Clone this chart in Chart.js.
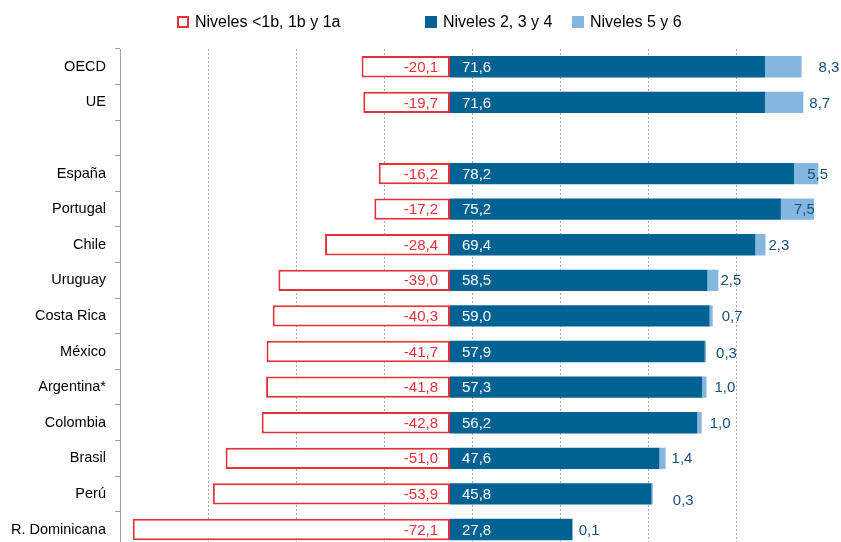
<!DOCTYPE html>
<html>
<head>
<meta charset="utf-8">
<script src="https://cdn.jsdelivr.net/npm/chart.js@4"></script>
<style>
  html, body { margin: 0; padding: 0; background: #fff; overflow: hidden; }
  #wrap { position: relative; width: 841px; height: 565px; }
  #c { position: absolute; left: 0; top: 0; }
  #legend { position: absolute; left: 0; top: 0; width: 841px; height: 40px;
    font-family: "Liberation Sans", Arial, sans-serif; font-size: 16px; color: #000; }
  .item { position: absolute; top: 12px; white-space: nowrap; line-height: 19px; }
  .box { display: inline-block; width: 12px; height: 12px; box-sizing: border-box; vertical-align: -1px; margin-right: 6px; }
</style>
</head>
<body>
<div id="wrap">
  <canvas id="c" width="841" height="565"></canvas>
  <div id="legend"></div>
</div>
<script>
const categories = ["OECD", "UE", "", "España", "Portugal", "Chile", "Uruguay", "Costa Rica", "México", "Argentina*", "Colombia", "Brasil", "Perú", "R. Dominicana"];
const seriesNames = ["Niveles <1b, 1b y 1a", "Niveles 2, 3 y 4", "Niveles 5 y 6"];
const lowLevels  = [-20.1, -19.7, null, -16.2, -17.2, -28.4, -39.0, -40.3, -41.7, -41.8, -42.8, -51.0, -53.9, -72.1];
const midLevels  = [71.6, 71.6, null, 78.2, 75.2, 69.4, 58.5, 59.0, 57.9, 57.3, 56.2, 47.6, 45.8, 27.8];
const highLevels = [8.3, 8.7, null, 5.5, 7.5, 2.3, 2.5, 0.7, 0.3, 1.0, 1.0, 1.4, 0.3, 0.1];
const gridTicks  = [-55, -35, -15, 5, 25, 45, 65];

// styling: label nudges for the outer (light) labels, in px
const outerLabelDx = [17, 6, 0, -11, -20, 3, 2, 9, 10, 8, 8, 6, 20, 6];
const outerLabelDy = [0, 0, 0, 0, 0, 0, 0, 0, 1, 0, 0, 0, 6, 0];

const RED = "#e8303a", DARK = "#006193", LIGHT = "#84b6e0", NAVY = "#17507e";
const FONT = '"Liberation Sans", Arial, sans-serif';

function fmt(v) { return v.toFixed(1).replace(".", ","); }

// HTML legend
const legendSpec = [
  { left: 177, style: "background:#fff;border:2px solid " + RED },
  { left: 425, style: "background:" + DARK },
  { left: 572, style: "background:" + LIGHT }
];
const legendEl = document.getElementById("legend");
seriesNames.forEach((n, i) => {
  const d = document.createElement("div");
  d.className = "item";
  d.style.left = legendSpec[i].left + "px";
  d.innerHTML = '<span class="box" style="' + legendSpec[i].style + '"></span>';
  d.appendChild(document.createTextNode(n));
  legendEl.appendChild(d);
});

const labelPlugin = {
  id: "valueLabels",
  afterDatasetsDraw(chart) {
    const ctx = chart.ctx;
    ctx.save();
    ctx.font = "15px " + FONT;
    ctx.textBaseline = "middle";
    chart.data.datasets.forEach((ds, di) => {
      const meta = chart.getDatasetMeta(di);
      meta.data.forEach((el, i) => {
        const v = ds.data[i];
        if (v === null || v === undefined) return;
        const left = Math.min(el.x, el.base), right = Math.max(el.x, el.base);
        if (di === 0) {
          ctx.fillStyle = RED; ctx.textAlign = "right";
          ctx.fillText(fmt(v), right - 12, el.y + 1);
        } else if (di === 1) {
          ctx.fillStyle = "#ffffff"; ctx.textAlign = "left";
          ctx.fillText(fmt(v), left + 12, el.y + 1);
        } else {
          ctx.fillStyle = NAVY; ctx.textAlign = "left";
          ctx.fillText(fmt(v), right + outerLabelDx[i], el.y + 1 + outerLabelDy[i]);
        }
      });
    });
    ctx.restore();
  }
};

new Chart(document.getElementById("c"), {
  type: "bar",
  data: {
    labels: categories,
    datasets: [
      { label: seriesNames[0], data: lowLevels, backgroundColor: "#ffffff", borderColor: RED, borderWidth: 2, borderSkipped: false },
      { label: seriesNames[1], data: midLevels, backgroundColor: DARK, borderWidth: 0 },
      { label: seriesNames[2], data: highLevels, backgroundColor: LIGHT, borderWidth: 0 }
    ]
  },
  options: {
    indexAxis: "y",
    responsive: false,
    animation: false,
    events: [],
    layout: { padding: { top: 49, right: 17, bottom: 1, left: 0 } },
    datasets: { bar: { categoryPercentage: 1, barPercentage: 0.6 } },
    plugins: { legend: { display: false }, tooltip: { enabled: false } },
    scales: {
      x: {
        stacked: true, min: -75, max: 85,
        afterBuildTicks(scale) { scale.ticks = gridTicks.map(v => ({ value: v })); },
        afterFit(scale) { scale.height = 0; },
        ticks: { display: false },
        grid: { color: "#a8a8a8", lineWidth: 1, drawTicks: false },
        border: { display: false, dash: [2, 2] }
      },
      y: {
        stacked: true,
        afterFit(scale) { scale.width = 120; },
        ticks: { color: "#000", font: { family: FONT, size: 14.5 }, padding: 9 },
        grid: { offset: true, drawOnChartArea: false, drawTicks: true, tickLength: 5, color: "#a0a0a0" },
        border: { display: true, color: "#a0a0a0", width: 1 }
      }
    }
  },
  plugins: [labelPlugin]
});
</script>
</body>
</html>
